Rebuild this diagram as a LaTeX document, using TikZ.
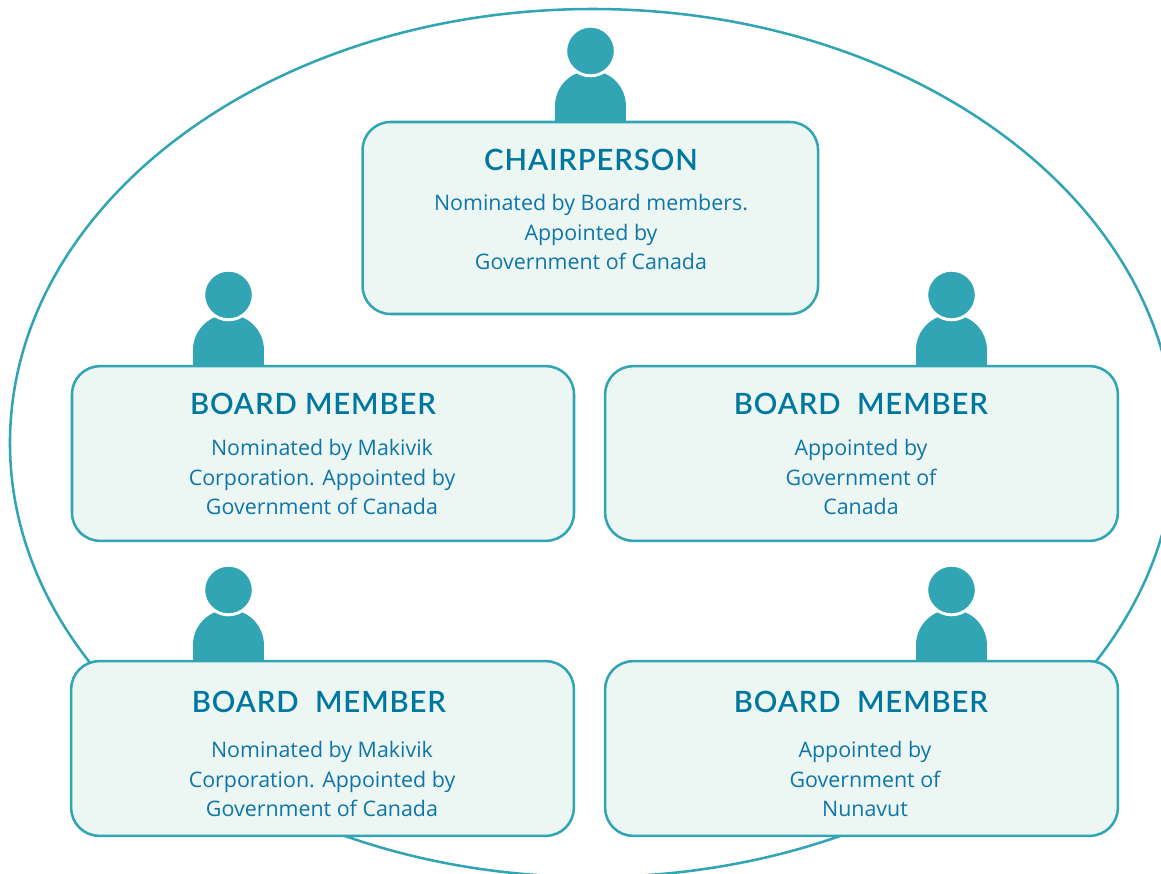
\documentclass[tikz,border=0pt]{standalone}
\usepackage{fontspec}
\setmainfont{Open Sans}
\newfontfamily\titlefont{Lato Semibold}[LetterSpace=3]
\definecolor{tealline}{HTML}{31A5B4}
\definecolor{boxfill}{HTML}{ECF6F3}
\definecolor{inktext}{HTML}{0F76A8}
\definecolor{inktitle}{HTML}{00779F}
\tikzset{
  x=0.75pt,y=-0.75pt,
  boxnode/.style={draw=tealline,fill=boxfill,line width=1.9pt,rounded corners=21pt,inner sep=0pt,minimum width=#1},
  titlenode/.style={text=inktitle,font=\titlefont\fontsize{22}{25}\selectfont,inner sep=0pt},
  bodynode/.style={text=inktext,font=\fontsize{16.05}{21.8}\selectfont,align=center,inner sep=0pt},
}
\newcommand{\person}[2]{%
  \fill[tealline] (#1-35.5,#2) -- (#1-35.5,#2-16) arc[start angle=180,end angle=0,radius=26.6pt] -- (#1+35.5,#2) -- cycle;
  \fill[tealline,draw=white,line width=2.2pt] (#1,#2-71) circle[radius=18.6pt];
}
\begin{document}
\begin{tikzpicture}
\useasboundingbox (0,0) rectangle (1161,874);
\begin{scope}
\clip (0,0) rectangle (1161,874);
\draw[tealline,line width=1.9pt] (592.5,443) ellipse[x radius=436.9pt,y radius=325.5pt];
\end{scope}
\person{590.5}{122}
\person{228.5}{366}
\person{951.5}{366}
\person{228.5}{661}
\person{951.5}{661}
\node[boxnode=341.6pt,minimum height=144pt] (chair) at (590.3,218) {};
\node[boxnode=376.5pt,minimum height=131pt] (b1) at (323,453.5) {};
\node[boxnode=384.5pt,minimum height=131pt] (b2) at (861.5,453.5) {};
\node[boxnode=377pt,minimum height=131pt] (b3) at (322.5,748.5) {};
\node[boxnode=384.5pt,minimum height=131pt] (b4) at (861.5,748.5) {};
\node[titlenode] (t0) at (591,159.5) {CHAIRPERSON};
\node[bodynode] (d0) at (591,232) {Nominated by Board members.\\Appointed by\\Government of Canada};
\node[titlenode] (t1) at (313,403.5) {BOARD MEMBER};
\node[bodynode] (d1) at (322,477) {Nominated by Makivik\\Corporation. Appointed by\\Government of Canada};
\node[titlenode] (t2) at (861,403.5) {BOARD\ \ MEMBER};
\node[bodynode] (d2) at (861,477) {Appointed by\\Government of\\Canada};
\node[titlenode] (t3) at (319,701.5) {BOARD\ \ MEMBER};
\node[bodynode] (d3) at (322,779) {Nominated by Makivik\\Corporation. Appointed by\\Government of Canada};
\node[titlenode] (t4) at (861,701.5) {BOARD\ \ MEMBER};
\node[bodynode] (d4) at (865,779) {Appointed by\\Government of\\Nunavut};
\end{tikzpicture}
\end{document}
